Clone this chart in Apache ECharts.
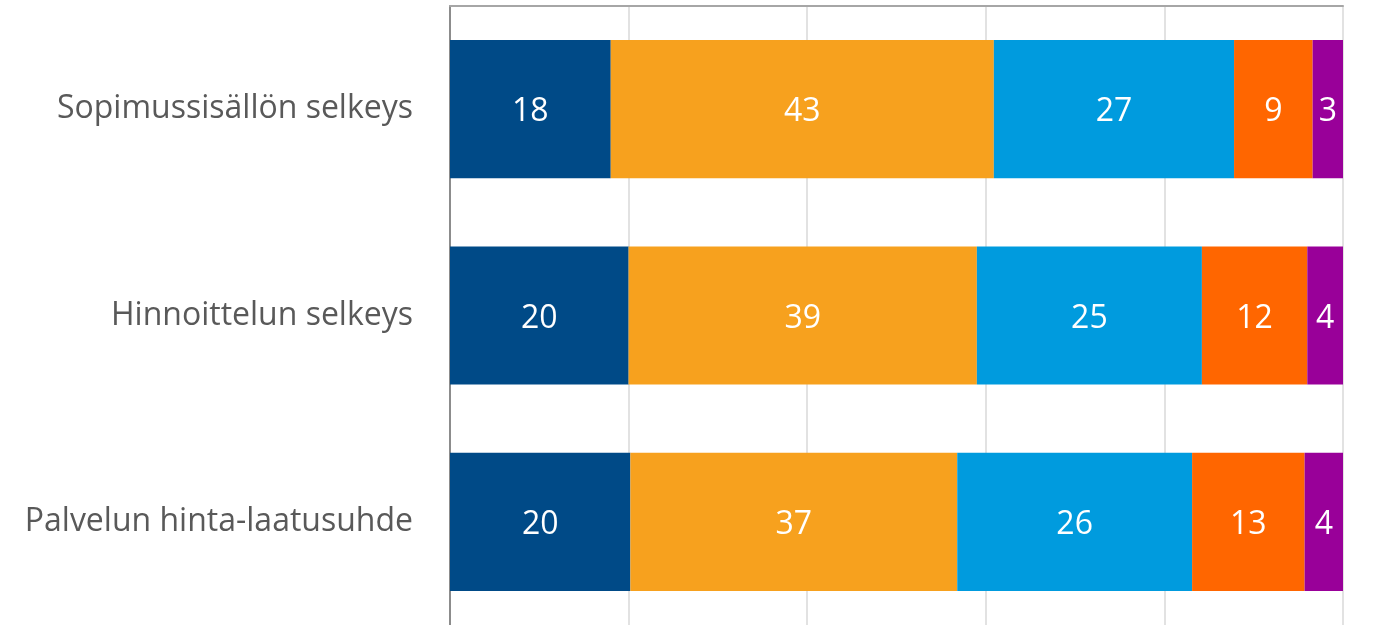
<!DOCTYPE html>
<html>
<head>
<meta charset="utf-8">
<script src="https://cdn.jsdelivr.net/npm/echarts@6/dist/echarts.min.js"></script>
<style>
html,body{margin:0;padding:0;background:#fff;}
#chart{width:1396px;height:625px;}
</style>
</head>
<body>
<div id="chart"></div>
<script>
const categories = ["Sopimussisällön selkeys", "Hinnoittelun selkeys", "Palvelun hinta-laatusuhde"];
const seriesNames = ["1", "2", "3", "4", "5"];
const values1 = [18.0, 20.0, 20.2];
const values2 = [42.9, 39.0, 36.6];
const values3 = [26.9, 25.2, 26.3];
const values4 = [8.8, 11.8, 12.6];
const values5 = [3.4, 4.0, 4.3];
const colors = ["#004A87", "#F7A11E", "#009BDE", "#FF6600", "#990099"];

const allValues = [values1, values2, values3, values4, values5];
const font = "'Open Sans', 'Noto Sans', sans-serif";

const chart = echarts.init(document.getElementById('chart'), null, {renderer: 'canvas'});
chart.setOption({
  animation: false,
  grid: {left: 450, right: 53, top: 6, bottom: -3, containLabel: false},
  xAxis: {
    type: 'value', min: 0, max: 100, interval: 20, position: 'top',
    axisLine: {show: true, lineStyle: {color: '#a6a6a6', width: 2}},
    axisTick: {show: false},
    axisLabel: {show: false},
    splitLine: {show: true, lineStyle: {color: '#d9d9d9', width: 1.5}}
  },
  yAxis: {
    type: 'category', data: categories, inverse: true,
    axisLine: {show: true, lineStyle: {color: '#8c8c8c', width: 2}},
    axisTick: {show: false},
    axisLabel: {color: '#595959', fontSize: 32, fontFamily: font, margin: 37, padding: [6, 0, 0, 0]}
  },
  series: allValues.map((vals, i) => ({
    name: seriesNames[i],
    type: 'bar',
    stack: 'total',
    barCategoryGap: '33%',
    data: vals,
    itemStyle: {color: colors[i]},
    label: {
      show: true, position: 'inside', color: '#ffffff',
      fontSize: 32, fontFamily: font, offset: [0, 3],
      formatter: p => Math.round(p.value)
    }
  }))
});
</script>
</body>
</html>
